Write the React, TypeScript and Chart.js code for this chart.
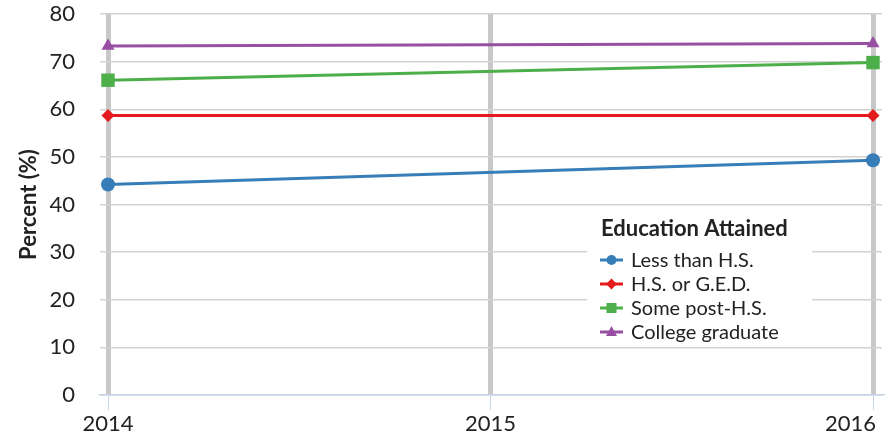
import React, { useEffect, useRef } from "react";
import { Chart, registerables } from "chart.js";

Chart.register(...registerables);

const years = [2014, 2016];
const xTickYears = [2014, 2015, 2016];
const lessThanHS = [44.2, 49.3];
const hsOrGED = [58.7, 58.7];
const somePostHS = [66.1, 69.8];
const collegeGrad = [73.3, 73.8];
const seriesLabels = ["Less than H.S.", "H.S. or G.E.D.", "Some post-H.S.", "College graduate"];
const legendTitle = "Education Attained";
const yTitle = "Percent (%)";

const FONT = "Lato, 'Open Sans', sans-serif";

function drawMarker(ctx: CanvasRenderingContext2D, style: string, x: number, y: number, r: number, color: string) {
  ctx.fillStyle = color;
  ctx.beginPath();
  if (style === "circle") {
    ctx.arc(x, y, r, 0, Math.PI * 2);
  } else if (style === "rectRot") {
    ctx.moveTo(x, y - r * 1.2);
    ctx.lineTo(x + r * 1.2, y);
    ctx.lineTo(x, y + r * 1.2);
    ctx.lineTo(x - r * 1.2, y);
    ctx.closePath();
  } else if (style === "rect") {
    ctx.rect(x - r, y - r, 2 * r, 2 * r);
  } else if (style === "triangle") {
    ctx.moveTo(x, y - r * 1.2);
    ctx.lineTo(x + r * 1.1, y + r * 0.8);
    ctx.lineTo(x - r * 1.1, y + r * 0.8);
    ctx.closePath();
  }
  ctx.fill();
}

const legendPlugin = {
  id: "insideLegend",
  afterDraw(chart: any) {
    const ctx = chart.ctx;
    const x0 = 587, y0 = 211, w = 225, h = 132;
    ctx.save();
    ctx.fillStyle = "#ffffff";
    ctx.fillRect(x0, y0, w, h);
    ctx.fillStyle = "#222222";
    ctx.font = `bold 22px ${FONT}`;
    ctx.textBaseline = "middle";
    ctx.textAlign = "left";
    ctx.fillText(legendTitle, 601, 229);
    chart.data.datasets.forEach((ds: any, i: number) => {
      const y = 260 + i * 24;
      ctx.strokeStyle = ds.borderColor;
      ctx.lineWidth = 3;
      ctx.beginPath();
      ctx.moveTo(600, y);
      ctx.lineTo(623, y);
      ctx.stroke();
      const r = ds.pointStyle === "rectRot" ? 4.5 : 5;
      drawMarker(ctx, ds.pointStyle, 611.5, y, r, ds.borderColor);
      ctx.fillStyle = "#222222";
      ctx.font = `20px ${FONT}`;
      ctx.fillText(ds.label, 631, y + 1);
    });
    ctx.restore();
  },
};

export default function App() {
  const ref = useRef<HTMLCanvasElement>(null);
  useEffect(() => {
    document.body.style.margin = "0";
    const colors = ["#377eb8", "#e41a1c", "#4daf4a", "#984ea3"];
    const values = [lessThanHS, hsOrGED, somePostHS, collegeGrad];
    const styles = ["circle", "rectRot", "rect", "triangle"];
    const radii = [7, 6.5, 9.5, 7.5];
    const lastYear = xTickYears[xTickYears.length - 1];
    const chart = new Chart(ref.current!, {
      type: "line",
      data: {
        datasets: values.map((vals, i) => ({
          label: seriesLabels[i],
          data: vals.map((v, j) => ({ x: years[j], y: v })),
          borderColor: colors[i],
          backgroundColor: colors[i],
          pointBackgroundColor: colors[i],
          pointBorderColor: colors[i],
          pointBorderWidth: 0,
          borderWidth: 3,
          pointStyle: styles[i],
          pointRadius: radii[i],
          tension: 0,
        })),
      },
      options: {
        animation: false,
        responsive: false,
        layout: { autoPadding: false, padding: { top: 14, right: 14, bottom: 0, left: 0 } },
        plugins: { legend: { display: false }, tooltip: { enabled: false } },
        scales: {
          x: {
            type: "linear",
            min: 2014 - 8 / 382.5,
            max: 2016 + 9 / 382.5,
            afterBuildTicks: (scale: any) => {
              scale.ticks = xTickYears.map((v) => ({ value: v }));
            },
            afterFit: (scale: any) => {
              scale.height = 45;
              scale.paddingLeft = 0;
              scale.paddingRight = 0;
            },
            grid: {
              color: "#c8c8c8",
              lineWidth: 5,
              drawTicks: true,
              tickLength: 15,
              tickColor: "#c5d5e8",
              tickWidth: 1,
            },
            border: { display: true, color: "#c5d5e8", width: 1.5 },
            ticks: {
              color: "#222222",
              font: { family: FONT, size: 22 },
              padding: 1,
              maxRotation: 0,
              autoSkip: false,
              callback: (v: any) => (v === lastYear ? String(v) + "        " : String(v)),
            },
          },
          y: {
            min: 0,
            max: 80,
            afterFit: (scale: any) => {
              scale.width = 100;
              scale.paddingTop = 0;
              scale.paddingBottom = 0;
            },
            grid: { color: "#d2d2d2", lineWidth: 1.5, drawTicks: false },
            border: { display: false },
            ticks: {
              stepSize: 5,
              color: "#222222",
              padding: 25,
              font: { family: FONT, size: 22 },
              callback: (v: any) => (v % 10 === 0 ? String(v) : ""),
            },
            title: {
              display: true,
              text: yTitle,
              color: "#222222",
              font: { family: FONT, size: 22, weight: "bold" },
              padding: { top: 16, bottom: 0 },
            },
          },
        },
      },
      plugins: [legendPlugin],
    } as any);
    return () => chart.destroy();
  }, []);
  return <canvas ref={ref} width={896} height={440} style={{ display: "block" }} />;
}
